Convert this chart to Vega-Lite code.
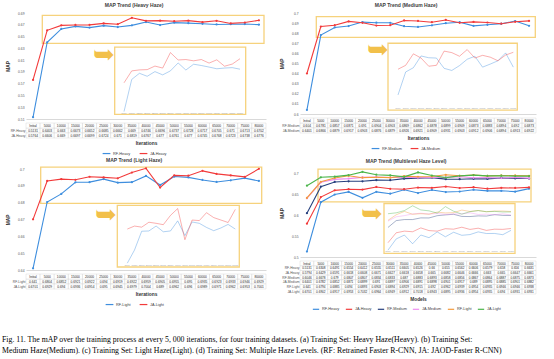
{
  "$schema": "https://vega.github.io/schema/vega-lite/v6.json",
  "background": "white",
  "padding": {"left": 2, "top": 3, "right": 2, "bottom": 2},
  "title": {
    "text": [
      "Fig. 11.  The mAP over the training process at every 5, 000 iterations, for four training datasets. (a) Training Set: Heavy Haze(Heavy). (b) Training Set:",
      "Medium Haze(Medium). (c) Training Set: Light Haze(Light). (d) Training Set: Multiple Haze Levels. (RF: Retrained Faster R-CNN, JA: JAOD-Faster R-CNN)"
    ],
    "orient": "bottom", "anchor": "start", "font": "Liberation Serif", "fontSize": 7.8, "fontWeight": "normal",
    "color": "#000000", "lineHeight": 10.5, "offset": 24
  },
  "datasets": {
    "heavy": [
      {"s":"RF-Heavy","it":"Initial","n":0,"v":0.5131},{"s":"RF-Heavy","it":"5000","n":5000,"v":0.6403},{"s":"RF-Heavy","it":"10000","n":10000,"v":0.663},{"s":"RF-Heavy","it":"15000","n":15000,"v":0.6673},{"s":"RF-Heavy","it":"20000","n":20000,"v":0.6652},{"s":"RF-Heavy","it":"25000","n":25000,"v":0.6685},{"s":"RF-Heavy","it":"30000","n":30000,"v":0.6662},{"s":"RF-Heavy","it":"35000","n":35000,"v":0.669},{"s":"RF-Heavy","it":"40000","n":40000,"v":0.6746},{"s":"RF-Heavy","it":"45000","n":45000,"v":0.6696},{"s":"RF-Heavy","it":"50000","n":50000,"v":0.6737},{"s":"RF-Heavy","it":"55000","n":55000,"v":0.6728},{"s":"RF-Heavy","it":"60000","n":60000,"v":0.6717},{"s":"RF-Heavy","it":"65000","n":65000,"v":0.6705},{"s":"RF-Heavy","it":"70000","n":70000,"v":0.671},{"s":"RF-Heavy","it":"75000","n":75000,"v":0.6713},{"s":"RF-Heavy","it":"80000","n":80000,"v":0.6702},
      {"s":"JA-Heavy","it":"Initial","n":0,"v":0.5764},{"s":"JA-Heavy","it":"5000","n":5000,"v":0.6606},{"s":"JA-Heavy","it":"10000","n":10000,"v":0.669},{"s":"JA-Heavy","it":"15000","n":15000,"v":0.6697},{"s":"JA-Heavy","it":"20000","n":20000,"v":0.6699},{"s":"JA-Heavy","it":"25000","n":25000,"v":0.6724},{"s":"JA-Heavy","it":"30000","n":30000,"v":0.671},{"s":"JA-Heavy","it":"35000","n":35000,"v":0.6819},{"s":"JA-Heavy","it":"40000","n":40000,"v":0.6767},{"s":"JA-Heavy","it":"45000","n":45000,"v":0.677},{"s":"JA-Heavy","it":"50000","n":50000,"v":0.6761},{"s":"JA-Heavy","it":"55000","n":55000,"v":0.677},{"s":"JA-Heavy","it":"60000","n":60000,"v":0.6745},{"s":"JA-Heavy","it":"65000","n":65000,"v":0.6768},{"s":"JA-Heavy","it":"70000","n":70000,"v":0.6723},{"s":"JA-Heavy","it":"75000","n":75000,"v":0.6738},{"s":"JA-Heavy","it":"80000","n":80000,"v":0.6776}
    ],
    "medium": [
      {"s":"RF-Medium","it":"Initial","n":0,"v":0.604},{"s":"RF-Medium","it":"5000","n":5000,"v":0.6781},{"s":"RF-Medium","it":"10000","n":10000,"v":0.6857},{"s":"RF-Medium","it":"15000","n":15000,"v":0.6871},{"s":"RF-Medium","it":"20000","n":20000,"v":0.691},{"s":"RF-Medium","it":"25000","n":25000,"v":0.6904},{"s":"RF-Medium","it":"30000","n":30000,"v":0.6903},{"s":"RF-Medium","it":"35000","n":35000,"v":0.6869},{"s":"RF-Medium","it":"40000","n":40000,"v":0.6862},{"s":"RF-Medium","it":"45000","n":45000,"v":0.6878},{"s":"RF-Medium","it":"50000","n":50000,"v":0.6899},{"s":"RF-Medium","it":"55000","n":55000,"v":0.6909},{"s":"RF-Medium","it":"60000","n":60000,"v":0.6873},{"s":"RF-Medium","it":"65000","n":65000,"v":0.6883},{"s":"RF-Medium","it":"70000","n":70000,"v":0.6894},{"s":"RF-Medium","it":"75000","n":75000,"v":0.692},{"s":"RF-Medium","it":"80000","n":80000,"v":0.6873},
      {"s":"JA-Medium","it":"Initial","n":0,"v":0.6401},{"s":"JA-Medium","it":"5000","n":5000,"v":0.6866},{"s":"JA-Medium","it":"10000","n":10000,"v":0.6879},{"s":"JA-Medium","it":"15000","n":15000,"v":0.6917},{"s":"JA-Medium","it":"20000","n":20000,"v":0.6903},{"s":"JA-Medium","it":"25000","n":25000,"v":0.6876},{"s":"JA-Medium","it":"30000","n":30000,"v":0.6879},{"s":"JA-Medium","it":"35000","n":35000,"v":0.6926},{"s":"JA-Medium","it":"40000","n":40000,"v":0.6921},{"s":"JA-Medium","it":"45000","n":45000,"v":0.6909},{"s":"JA-Medium","it":"50000","n":50000,"v":0.6931},{"s":"JA-Medium","it":"55000","n":55000,"v":0.6903},{"s":"JA-Medium","it":"60000","n":60000,"v":0.6912},{"s":"JA-Medium","it":"65000","n":65000,"v":0.6906},{"s":"JA-Medium","it":"70000","n":70000,"v":0.6894},{"s":"JA-Medium","it":"75000","n":75000,"v":0.6913},{"s":"JA-Medium","it":"80000","n":80000,"v":0.6922}
    ],
    "light": [
      {"s":"RF-Light","it":"Initial","n":0,"v":0.641},{"s":"RF-Light","it":"5000","n":5000,"v":0.6804},{"s":"RF-Light","it":"10000","n":10000,"v":0.6852},{"s":"RF-Light","it":"15000","n":15000,"v":0.6921},{"s":"RF-Light","it":"20000","n":20000,"v":0.6922},{"s":"RF-Light","it":"25000","n":25000,"v":0.694},{"s":"RF-Light","it":"30000","n":30000,"v":0.6919},{"s":"RF-Light","it":"35000","n":35000,"v":0.6922},{"s":"RF-Light","it":"40000","n":40000,"v":0.6959},{"s":"RF-Light","it":"45000","n":45000,"v":0.6905},{"s":"RF-Light","it":"50000","n":50000,"v":0.6955},{"s":"RF-Light","it":"55000","n":55000,"v":0.695},{"s":"RF-Light","it":"60000","n":60000,"v":0.6935},{"s":"RF-Light","it":"65000","n":65000,"v":0.6923},{"s":"RF-Light","it":"70000","n":70000,"v":0.6933},{"s":"RF-Light","it":"75000","n":75000,"v":0.6946},{"s":"RF-Light","it":"80000","n":80000,"v":0.6929},
      {"s":"JA-Light","it":"Initial","n":0,"v":0.6701},{"s":"JA-Light","it":"5000","n":5000,"v":0.6929},{"s":"JA-Light","it":"10000","n":10000,"v":0.694},{"s":"JA-Light","it":"15000","n":15000,"v":0.6936},{"s":"JA-Light","it":"20000","n":20000,"v":0.6954},{"s":"JA-Light","it":"25000","n":25000,"v":0.695},{"s":"JA-Light","it":"30000","n":30000,"v":0.6945},{"s":"JA-Light","it":"35000","n":35000,"v":0.6979},{"s":"JA-Light","it":"40000","n":40000,"v":0.7004},{"s":"JA-Light","it":"45000","n":45000,"v":0.689},{"s":"JA-Light","it":"50000","n":50000,"v":0.6962},{"s":"JA-Light","it":"55000","n":55000,"v":0.696},{"s":"JA-Light","it":"60000","n":60000,"v":0.6989},{"s":"JA-Light","it":"65000","n":65000,"v":0.6971},{"s":"JA-Light","it":"70000","n":70000,"v":0.6962},{"s":"JA-Light","it":"75000","n":75000,"v":0.6953},{"s":"JA-Light","it":"80000","n":80000,"v":0.7001}
    ],
    "multi": [
      {"s":"RF-Heavy","it":"Initial","n":0,"v":0.5131},{"s":"RF-Heavy","it":"5000","n":5000,"v":0.6308},{"s":"RF-Heavy","it":"10000","n":10000,"v":0.6491},{"s":"RF-Heavy","it":"15000","n":15000,"v":0.6554},{"s":"RF-Heavy","it":"20000","n":20000,"v":0.6412},{"s":"RF-Heavy","it":"25000","n":25000,"v":0.6555},{"s":"RF-Heavy","it":"30000","n":30000,"v":0.6511},{"s":"RF-Heavy","it":"35000","n":35000,"v":0.6605},{"s":"RF-Heavy","it":"40000","n":40000,"v":0.6526},{"s":"RF-Heavy","it":"45000","n":45000,"v":0.66},{"s":"RF-Heavy","it":"50000","n":50000,"v":0.655},{"s":"RF-Heavy","it":"55000","n":55000,"v":0.6562},{"s":"RF-Heavy","it":"60000","n":60000,"v":0.6606},{"s":"RF-Heavy","it":"65000","n":65000,"v":0.6579},{"s":"RF-Heavy","it":"70000","n":70000,"v":0.658},{"s":"RF-Heavy","it":"75000","n":75000,"v":0.656},{"s":"RF-Heavy","it":"80000","n":80000,"v":0.6631},
      {"s":"JA-Heavy","it":"Initial","n":0,"v":0.5794},{"s":"JA-Heavy","it":"5000","n":5000,"v":0.6429},{"s":"JA-Heavy","it":"10000","n":10000,"v":0.6591},{"s":"JA-Heavy","it":"15000","n":15000,"v":0.6618},{"s":"JA-Heavy","it":"20000","n":20000,"v":0.6608},{"s":"JA-Heavy","it":"25000","n":25000,"v":0.6671},{"s":"JA-Heavy","it":"30000","n":30000,"v":0.6627},{"s":"JA-Heavy","it":"35000","n":35000,"v":0.6618},{"s":"JA-Heavy","it":"40000","n":40000,"v":0.6658},{"s":"JA-Heavy","it":"45000","n":45000,"v":0.665},{"s":"JA-Heavy","it":"50000","n":50000,"v":0.6682},{"s":"JA-Heavy","it":"55000","n":55000,"v":0.6646},{"s":"JA-Heavy","it":"60000","n":60000,"v":0.6666},{"s":"JA-Heavy","it":"65000","n":65000,"v":0.663},{"s":"JA-Heavy","it":"70000","n":70000,"v":0.665},{"s":"JA-Heavy","it":"75000","n":75000,"v":0.6647},{"s":"JA-Heavy","it":"80000","n":80000,"v":0.6661},
      {"s":"RF-Medium","it":"Initial","n":0,"v":0.6046},{"s":"RF-Medium","it":"5000","n":5000,"v":0.6678},{"s":"RF-Medium","it":"10000","n":10000,"v":0.679},{"s":"RF-Medium","it":"15000","n":15000,"v":0.6807},{"s":"RF-Medium","it":"20000","n":20000,"v":0.6807},{"s":"RF-Medium","it":"25000","n":25000,"v":0.6834},{"s":"RF-Medium","it":"30000","n":30000,"v":0.6833},{"s":"RF-Medium","it":"35000","n":35000,"v":0.687},{"s":"RF-Medium","it":"40000","n":40000,"v":0.6883},{"s":"RF-Medium","it":"45000","n":45000,"v":0.6893},{"s":"RF-Medium","it":"50000","n":50000,"v":0.6858},{"s":"RF-Medium","it":"55000","n":55000,"v":0.6856},{"s":"RF-Medium","it":"60000","n":60000,"v":0.6867},{"s":"RF-Medium","it":"65000","n":65000,"v":0.6864},{"s":"RF-Medium","it":"70000","n":70000,"v":0.6887},{"s":"RF-Medium","it":"75000","n":75000,"v":0.6875},{"s":"RF-Medium","it":"80000","n":80000,"v":0.6873},
      {"s":"JA-Medium","it":"Initial","n":0,"v":0.6401},{"s":"JA-Medium","it":"5000","n":5000,"v":0.6782},{"s":"JA-Medium","it":"10000","n":10000,"v":0.6852},{"s":"JA-Medium","it":"15000","n":15000,"v":0.6871},{"s":"JA-Medium","it":"20000","n":20000,"v":0.6899},{"s":"JA-Medium","it":"25000","n":25000,"v":0.691},{"s":"JA-Medium","it":"30000","n":30000,"v":0.6897},{"s":"JA-Medium","it":"35000","n":35000,"v":0.6906},{"s":"JA-Medium","it":"40000","n":40000,"v":0.6891},{"s":"JA-Medium","it":"45000","n":45000,"v":0.6898},{"s":"JA-Medium","it":"50000","n":50000,"v":0.6901},{"s":"JA-Medium","it":"55000","n":55000,"v":0.6917},{"s":"JA-Medium","it":"60000","n":60000,"v":0.689},{"s":"JA-Medium","it":"65000","n":65000,"v":0.6895},{"s":"JA-Medium","it":"70000","n":70000,"v":0.6885},{"s":"JA-Medium","it":"75000","n":75000,"v":0.6901},{"s":"JA-Medium","it":"80000","n":80000,"v":0.6882},
      {"s":"RF-Light","it":"Initial","n":0,"v":0.641},{"s":"RF-Light","it":"5000","n":5000,"v":0.6794},{"s":"RF-Light","it":"10000","n":10000,"v":0.6885},{"s":"RF-Light","it":"15000","n":15000,"v":0.694},{"s":"RF-Light","it":"20000","n":20000,"v":0.6893},{"s":"RF-Light","it":"25000","n":25000,"v":0.6903},{"s":"RF-Light","it":"30000","n":30000,"v":0.6894},{"s":"RF-Light","it":"35000","n":35000,"v":0.6929},{"s":"RF-Light","it":"40000","n":40000,"v":0.6915},{"s":"RF-Light","it":"45000","n":45000,"v":0.692},{"s":"RF-Light","it":"50000","n":50000,"v":0.6962},{"s":"RF-Light","it":"55000","n":55000,"v":0.6939},{"s":"RF-Light","it":"60000","n":60000,"v":0.6954},{"s":"RF-Light","it":"65000","n":65000,"v":0.6935},{"s":"RF-Light","it":"70000","n":70000,"v":0.6946},{"s":"RF-Light","it":"75000","n":75000,"v":0.6946},{"s":"RF-Light","it":"80000","n":80000,"v":0.6938},
      {"s":"JA-Light","it":"Initial","n":0,"v":0.6701},{"s":"JA-Light","it":"5000","n":5000,"v":0.6902},{"s":"JA-Light","it":"10000","n":10000,"v":0.6917},{"s":"JA-Light","it":"15000","n":15000,"v":0.6953},{"s":"JA-Light","it":"20000","n":20000,"v":0.7032},{"s":"JA-Light","it":"25000","n":25000,"v":0.6964},{"s":"JA-Light","it":"30000","n":30000,"v":0.6949},{"s":"JA-Light","it":"35000","n":35000,"v":0.6912},{"s":"JA-Light","it":"40000","n":40000,"v":0.7018},{"s":"JA-Light","it":"45000","n":45000,"v":0.6943},{"s":"JA-Light","it":"50000","n":50000,"v":0.6895},{"s":"JA-Light","it":"55000","n":55000,"v":0.6936},{"s":"JA-Light","it":"60000","n":60000,"v":0.6954},{"s":"JA-Light","it":"65000","n":65000,"v":0.6935},{"s":"JA-Light","it":"70000","n":70000,"v":0.694},{"s":"JA-Light","it":"75000","n":75000,"v":0.6931},{"s":"JA-Light","it":"80000","n":80000,"v":0.6931}
    ]
  },
  "columns": 2,
  "spacing": {"row": 2, "column": 9},
  "resolve": {"scale": {"color": "independent", "stroke": "independent"}, "legend": {"color": "independent", "stroke": "independent"}},
  "concat": [
    {
      "title": {"text": "MAP Trend (Heavy Haze)", "anchor": "middle"},
      "data": {"name": "heavy"},
      "spacing": 1,
      "vconcat": [
        {
          "width": 240, "height": 106,
          "layer": [
            {"layer": [
              {"data": {"values": [{}]}, "mark": {"type": "rect", "fill": "transparent", "stroke": "#f6d27c", "strokeWidth": 1.3},
               "encoding": {"x": {"datum": 3273, "type": "quantitative"}, "x2": {"datum": 81792}, "y": {"datum": 0.6861, "type": "quantitative"}, "y2": {"datum": 0.6385}}},
              {"mark": {"type": "line", "strokeWidth": 1.1, "point": {"filled": true, "size": 5}},
               "encoding": {
                 "x": {"field": "n", "type": "quantitative", "scale": {"domain": [-2500, 82500], "nice": false, "zero": false}, "axis": {"title": null, "labels": false, "ticks": false, "grid": false, "domain": true, "domainColor": "#bfbfbf", "domainWidth": 0.6}},
                 "y": {"field": "v", "type": "quantitative", "scale": {"domain": [0.51, 0.69], "nice": false, "zero": false}, "axis": {"title": "MAP", "tickCount": 36, "labelExpr": "round(datum.value*1000) % 20 == 10 ? format(datum.value, '.2f') : ''"}},
                 "color": {"field": "s", "type": "nominal", "scale": {"domain": ["RF-Heavy", "JA-Heavy"], "range": ["#3e8ede", "#f23a3a"]}, "legend": {"orient": "bottom", "title": null}}}},
              {"data": {"values": [{}]}, "mark": {"type": "text", "text": "➥", "fontSize": 26, "color": "#f2c04a", "font": "DejaVu Sans", "align": "center", "baseline": "middle"},
               "encoding": {"x": {"datum": 25125, "type": "quantitative"}, "y": {"datum": 0.6182, "type": "quantitative"}}}
            ]},
            {"layer": [
              {"data": {"values": [{}]}, "mark": {"type": "rect", "fill": "white", "stroke": "#f6d27c", "strokeWidth": 1.3},
               "encoding": {"x": {"datum": -1013, "type": "quantitative", "scale": {"domain": [-58362, 96810], "nice": false, "zero": false}, "axis": null}, "x2": {"datum": 83678}, "y": {"datum": 0.6857, "type": "quantitative", "scale": {"domain": [0.6351, 0.7098], "nice": false, "zero": false}, "axis": null}, "y2": {"datum": 0.6384}}},
              {"transform": [{"filter": "datum.n > 0"}], "mark": {"type": "line", "strokeWidth": 0.8, "opacity": 0.5},
               "encoding": {"x": {"field": "n", "type": "quantitative", "axis": null}, "y": {"field": "v", "type": "quantitative", "axis": null}, "stroke": {"field": "s", "type": "nominal", "scale": {"domain": ["RF-Heavy", "JA-Heavy"], "range": ["#3e8ede", "#f23a3a"]}, "legend": null}}},
              {"transform": [{"filter": "datum.n > 0 && datum.s == 'RF-Heavy'"}], "mark": {"type": "text", "fontSize": 2.2, "color": "#9a9a9a"},
               "encoding": {"x": {"field": "n", "type": "quantitative", "axis": null}, "y": {"datum": 0.6396, "type": "quantitative", "axis": null}, "text": {"field": "it", "type": "nominal"}}}
            ]}
          ],
          "resolve": {"scale": {"x": "independent", "y": "independent"}}
        },
        {
          "width": 240, "height": 15,
          "layer": [
            {"mark": {"type": "rect", "fill": "white", "stroke": "#cfcfcf", "strokeWidth": 0.4},
             "encoding": {
               "x": {"field": "it", "type": "ordinal", "sort": ["Initial","5000","10000","15000","20000","25000","30000","35000","40000","45000","50000","55000","60000","65000","70000","75000","80000"], "scale": {"type": "band", "paddingInner": 0, "paddingOuter": 0}, "axis": {"title": "Iterations", "labels": false, "ticks": false, "domain": false, "grid": false}},
               "y": {"field": "s", "type": "nominal", "scale": {"type": "band", "domain": ["hdr", "RF-Heavy", "JA-Heavy"], "paddingInner": 0, "paddingOuter": 0}, "axis": {"title": null, "labelExpr": "datum.value == 'hdr' ? '' : datum.value", "ticks": false, "domain": false, "grid": false, "labelPadding": 1, "minExtent": 24, "maxExtent": 24}}}},
            {"transform": [{"filter": "datum.s == 'RF-Heavy'"}], "mark": {"type": "rect", "fill": "white", "stroke": "#cfcfcf", "strokeWidth": 0.4},
             "encoding": {"x": {"field": "it", "type": "ordinal", "sort": ["Initial","5000","10000","15000","20000","25000","30000","35000","40000","45000","50000","55000","60000","65000","70000","75000","80000"]}, "y": {"datum": "hdr", "type": "nominal"}}},
            {"mark": {"type": "text", "fontSize": 3.2, "color": "#222222"},
             "encoding": {"x": {"field": "it", "type": "ordinal", "sort": ["Initial","5000","10000","15000","20000","25000","30000","35000","40000","45000","50000","55000","60000","65000","70000","75000","80000"]}, "y": {"field": "s", "type": "nominal"}, "text": {"field": "v", "type": "quantitative", "format": ".4~f"}}},
            {"transform": [{"filter": "datum.s == 'RF-Heavy'"}], "mark": {"type": "text", "fontSize": 3.2, "color": "#222222"},
             "encoding": {"x": {"field": "it", "type": "ordinal", "sort": ["Initial","5000","10000","15000","20000","25000","30000","35000","40000","45000","50000","55000","60000","65000","70000","75000","80000"]}, "y": {"datum": "hdr", "type": "nominal"}, "text": {"field": "it", "type": "nominal"}}}
          ]
        }
      ]
    },
    {
      "title": {"text": "MAP Trend (Medium Haze)", "anchor": "middle"},
      "data": {"name": "medium"},
      "spacing": 1,
      "vconcat": [
        {
          "width": 236, "height": 101,
          "layer": [
            {"layer": [
              {"data": {"values": [{}]}, "mark": {"type": "rect", "fill": "transparent", "stroke": "#f6d27c", "strokeWidth": 1.3},
               "encoding": {"x": {"datum": 3371, "type": "quantitative"}, "x2": {"datum": 82248}, "y": {"datum": 0.6964, "type": "quantitative"}, "y2": {"datum": 0.6759}}},
              {"mark": {"type": "line", "strokeWidth": 1.1, "point": {"filled": true, "size": 5}},
               "encoding": {
                 "x": {"field": "n", "type": "quantitative", "scale": {"domain": [-2500, 82500], "nice": false, "zero": false}, "axis": {"title": null, "labels": false, "ticks": false, "grid": false, "domain": true, "domainColor": "#bfbfbf", "domainWidth": 0.6}},
                 "y": {"field": "v", "type": "quantitative", "scale": {"domain": [0.6, 0.7], "nice": false, "zero": false}, "axis": {"title": "MAP", "tickCount": 50, "labelExpr": "round(datum.value*1000) % 10 == 0 ? format(datum.value, '.2~f') : ''"}},
                 "color": {"field": "s", "type": "nominal", "scale": {"domain": ["RF-Medium", "JA-Medium"], "range": ["#3e8ede", "#f23a3a"]}, "legend": {"orient": "bottom", "title": null}}}},
              {"data": {"values": [{}]}, "mark": {"type": "text", "text": "➥", "fontSize": 26, "color": "#f2c04a", "font": "DejaVu Sans", "align": "center", "baseline": "middle"},
               "encoding": {"x": {"datum": 25593, "type": "quantitative"}, "y": {"datum": 0.6636, "type": "quantitative"}}}
            ]},
            {"layer": [
              {"data": {"values": [{}]}, "mark": {"type": "rect", "fill": "white", "stroke": "#f6d27c", "strokeWidth": 1.3},
               "encoding": {"x": {"datum": -1505, "type": "quantitative", "scale": {"domain": [-58747, 94766], "nice": false, "zero": false}, "axis": null}, "x2": {"datum": 82602}, "y": {"datum": 0.6952, "type": "quantitative", "scale": {"domain": [0.6718, 0.7052], "nice": false, "zero": false}, "axis": null}, "y2": {"datum": 0.6731}}},
              {"transform": [{"filter": "datum.n > 0"}], "mark": {"type": "line", "strokeWidth": 0.8, "opacity": 0.5},
               "encoding": {"x": {"field": "n", "type": "quantitative", "axis": null}, "y": {"field": "v", "type": "quantitative", "axis": null}, "stroke": {"field": "s", "type": "nominal", "scale": {"domain": ["RF-Medium", "JA-Medium"], "range": ["#3e8ede", "#f23a3a"]}, "legend": null}}},
              {"transform": [{"filter": "datum.n > 0 && datum.s == 'RF-Medium'"}], "mark": {"type": "text", "fontSize": 2.2, "color": "#9a9a9a"},
               "encoding": {"x": {"field": "n", "type": "quantitative", "axis": null}, "y": {"datum": 0.6739, "type": "quantitative", "axis": null}, "text": {"field": "it", "type": "nominal"}}}
            ]}
          ],
          "resolve": {"scale": {"x": "independent", "y": "independent"}}
        },
        {
          "width": 236, "height": 15,
          "layer": [
            {"mark": {"type": "rect", "fill": "white", "stroke": "#cfcfcf", "strokeWidth": 0.4},
             "encoding": {
               "x": {"field": "it", "type": "ordinal", "sort": ["Initial","5000","10000","15000","20000","25000","30000","35000","40000","45000","50000","55000","60000","65000","70000","75000","80000"], "scale": {"type": "band", "paddingInner": 0, "paddingOuter": 0}, "axis": {"title": "Iterations", "labels": false, "ticks": false, "domain": false, "grid": false}},
               "y": {"field": "s", "type": "nominal", "scale": {"type": "band", "domain": ["hdr", "RF-Medium", "JA-Medium"], "paddingInner": 0, "paddingOuter": 0}, "axis": {"title": null, "labelExpr": "datum.value == 'hdr' ? '' : datum.value", "ticks": false, "domain": false, "grid": false, "labelPadding": 1, "minExtent": 24, "maxExtent": 24}}}},
            {"transform": [{"filter": "datum.s == 'RF-Medium'"}], "mark": {"type": "rect", "fill": "white", "stroke": "#cfcfcf", "strokeWidth": 0.4},
             "encoding": {"x": {"field": "it", "type": "ordinal", "sort": ["Initial","5000","10000","15000","20000","25000","30000","35000","40000","45000","50000","55000","60000","65000","70000","75000","80000"]}, "y": {"datum": "hdr", "type": "nominal"}}},
            {"mark": {"type": "text", "fontSize": 3.2, "color": "#222222"},
             "encoding": {"x": {"field": "it", "type": "ordinal", "sort": ["Initial","5000","10000","15000","20000","25000","30000","35000","40000","45000","50000","55000","60000","65000","70000","75000","80000"]}, "y": {"field": "s", "type": "nominal"}, "text": {"field": "v", "type": "quantitative", "format": ".4~f"}}},
            {"transform": [{"filter": "datum.s == 'RF-Medium'"}], "mark": {"type": "text", "fontSize": 3.2, "color": "#222222"},
             "encoding": {"x": {"field": "it", "type": "ordinal", "sort": ["Initial","5000","10000","15000","20000","25000","30000","35000","40000","45000","50000","55000","60000","65000","70000","75000","80000"]}, "y": {"datum": "hdr", "type": "nominal"}, "text": {"field": "it", "type": "nominal"}}}
          ]
        }
      ]
    },
    {
      "title": {"text": "MAP Trend (Light Haze)", "anchor": "middle"},
      "data": {"name": "light"},
      "spacing": 1,
      "vconcat": [
        {
          "width": 240, "height": 101,
          "layer": [
            {"layer": [
              {"data": {"values": [{}]}, "mark": {"type": "rect", "fill": "transparent", "stroke": "#f6d27c", "strokeWidth": 1.3},
               "encoding": {"x": {"datum": 2706, "type": "quantitative"}, "x2": {"datum": 80977}, "y": {"datum": 0.7011, "type": "quantitative"}, "y2": {"datum": 0.6796}}},
              {"mark": {"type": "line", "strokeWidth": 1.1, "point": {"filled": true, "size": 5}},
               "encoding": {
                 "x": {"field": "n", "type": "quantitative", "scale": {"domain": [-2500, 82500], "nice": false, "zero": false}, "axis": {"title": null, "labels": false, "ticks": false, "grid": false, "domain": true, "domainColor": "#bfbfbf", "domainWidth": 0.6}},
                 "y": {"field": "v", "type": "quantitative", "scale": {"domain": [0.64, 0.7], "nice": false, "zero": false}, "axis": {"title": "MAP", "tickCount": 30, "labelExpr": "round(datum.value*1000) % 10 == 0 ? format(datum.value, '.2~f') : ''"}},
                 "color": {"field": "s", "type": "nominal", "scale": {"domain": ["RF-Light", "JA-Light"], "range": ["#3e8ede", "#f23a3a"]}, "legend": {"orient": "bottom", "title": null}}}},
              {"data": {"values": [{}]}, "mark": {"type": "text", "text": "➥", "fontSize": 26, "color": "#f2c04a", "font": "DejaVu Sans", "align": "center", "baseline": "middle"},
               "encoding": {"x": {"datum": 25833, "type": "quantitative"}, "y": {"datum": 0.6728, "type": "quantitative"}}}
            ]},
            {"layer": [
              {"data": {"values": [{}]}, "mark": {"type": "rect", "fill": "white", "stroke": "#f6d27c", "strokeWidth": 1.3},
               "encoding": {"x": {"datum": -1944, "type": "quantitative", "scale": {"domain": [-65347, 101320], "nice": false, "zero": false}, "axis": null}, "x2": {"datum": 82778}, "y": {"datum": 0.7016, "type": "quantitative", "scale": {"domain": [0.6779, 0.7149], "nice": false, "zero": false}, "axis": null}, "y2": {"datum": 0.679}}},
              {"transform": [{"filter": "datum.n > 0"}], "mark": {"type": "line", "strokeWidth": 0.8, "opacity": 0.5},
               "encoding": {"x": {"field": "n", "type": "quantitative", "axis": null}, "y": {"field": "v", "type": "quantitative", "axis": null}, "stroke": {"field": "s", "type": "nominal", "scale": {"domain": ["RF-Light", "JA-Light"], "range": ["#3e8ede", "#f23a3a"]}, "legend": null}}},
              {"transform": [{"filter": "datum.n > 0 && datum.s == 'RF-Light'"}], "mark": {"type": "text", "fontSize": 2.2, "color": "#9a9a9a"},
               "encoding": {"x": {"field": "n", "type": "quantitative", "axis": null}, "y": {"datum": 0.6799, "type": "quantitative", "axis": null}, "text": {"field": "it", "type": "nominal"}}}
            ]}
          ],
          "resolve": {"scale": {"x": "independent", "y": "independent"}}
        },
        {
          "width": 240, "height": 15,
          "layer": [
            {"mark": {"type": "rect", "fill": "white", "stroke": "#cfcfcf", "strokeWidth": 0.4},
             "encoding": {
               "x": {"field": "it", "type": "ordinal", "sort": ["Initial","5000","10000","15000","20000","25000","30000","35000","40000","45000","50000","55000","60000","65000","70000","75000","80000"], "scale": {"type": "band", "paddingInner": 0, "paddingOuter": 0}, "axis": {"title": "Iterations", "labels": false, "ticks": false, "domain": false, "grid": false}},
               "y": {"field": "s", "type": "nominal", "scale": {"type": "band", "domain": ["hdr", "RF-Light", "JA-Light"], "paddingInner": 0, "paddingOuter": 0}, "axis": {"title": null, "labelExpr": "datum.value == 'hdr' ? '' : datum.value", "ticks": false, "domain": false, "grid": false, "labelPadding": 1, "minExtent": 24, "maxExtent": 24}}}},
            {"transform": [{"filter": "datum.s == 'RF-Light'"}], "mark": {"type": "rect", "fill": "white", "stroke": "#cfcfcf", "strokeWidth": 0.4},
             "encoding": {"x": {"field": "it", "type": "ordinal", "sort": ["Initial","5000","10000","15000","20000","25000","30000","35000","40000","45000","50000","55000","60000","65000","70000","75000","80000"]}, "y": {"datum": "hdr", "type": "nominal"}}},
            {"mark": {"type": "text", "fontSize": 3.2, "color": "#222222"},
             "encoding": {"x": {"field": "it", "type": "ordinal", "sort": ["Initial","5000","10000","15000","20000","25000","30000","35000","40000","45000","50000","55000","60000","65000","70000","75000","80000"]}, "y": {"field": "s", "type": "nominal"}, "text": {"field": "v", "type": "quantitative", "format": ".4~f"}}},
            {"transform": [{"filter": "datum.s == 'RF-Light'"}], "mark": {"type": "text", "fontSize": 3.2, "color": "#222222"},
             "encoding": {"x": {"field": "it", "type": "ordinal", "sort": ["Initial","5000","10000","15000","20000","25000","30000","35000","40000","45000","50000","55000","60000","65000","70000","75000","80000"]}, "y": {"datum": "hdr", "type": "nominal"}, "text": {"field": "it", "type": "nominal"}}}
          ]
        }
      ]
    },
    {
      "title": {"text": "MAP Trend (Multilevel Haze Level)", "anchor": "middle"},
      "data": {"name": "multi"},
      "spacing": 1,
      "vconcat": [
        {
          "width": 236, "height": 88,
          "layer": [
            {"layer": [
              {"data": {"values": [{}]}, "mark": {"type": "rect", "fill": "transparent", "stroke": "#f6d27c", "strokeWidth": 1.3},
               "encoding": {"x": {"datum": 3983, "type": "quantitative"}, "x2": {"datum": 80699}, "y": {"datum": 0.7095, "type": "quantitative"}, "y2": {"datum": 0.6316}}},
              {"mark": {"type": "line", "strokeWidth": 1.1, "point": {"filled": true, "size": 5}},
               "encoding": {
                 "x": {"field": "n", "type": "quantitative", "scale": {"domain": [-2500, 82500], "nice": false, "zero": false}, "axis": {"title": null, "labels": false, "ticks": false, "grid": false, "domain": true, "domainColor": "#bfbfbf", "domainWidth": 0.6}},
                 "y": {"field": "v", "type": "quantitative", "scale": {"domain": [0.5, 0.71], "nice": false, "zero": false}, "axis": {"title": "MAP", "tickCount": 21, "labelExpr": "round(datum.value*1000) % 50 == 0 ? format(datum.value, '.2~f') : ''"}},
                 "color": {"field": "s", "type": "nominal", "scale": {"domain": ["RF-Heavy", "JA-Heavy", "RF-Medium", "JA-Medium", "RF-Light", "JA-Light"], "range": ["#3e8ede", "#f23a3a", "#27407e", "#ee8ef0", "#f39a3c", "#4bb54b"]}, "legend": {"orient": "bottom", "title": null, "columnPadding": 3, "symbolSize": 40}}}},
              {"data": {"values": [{}]}, "mark": {"type": "text", "text": "➥", "fontSize": 26, "color": "#f2c04a", "font": "DejaVu Sans", "align": "center", "baseline": "middle"},
               "encoding": {"x": {"datum": 23432, "type": "quantitative"}, "y": {"datum": 0.6036, "type": "quantitative"}}}
            ]},
            {"layer": [
              {"data": {"values": [{}]}, "mark": {"type": "rect", "fill": "white", "stroke": "#f6d27c", "strokeWidth": 1.3},
               "encoding": {"x": {"datum": 2562, "type": "quantitative", "scale": {"domain": [-48658, 95244], "nice": false, "zero": false}, "axis": null}, "x2": {"datum": 82439}, "y": {"datum": 0.7069, "type": "quantitative", "scale": {"domain": [0.6196, 0.7632], "nice": false, "zero": false}, "axis": null}, "y2": {"datum": 0.6255}}},
              {"transform": [{"filter": "datum.n > 0"}], "mark": {"type": "line", "strokeWidth": 0.8, "opacity": 0.5},
               "encoding": {"x": {"field": "n", "type": "quantitative", "axis": null}, "y": {"field": "v", "type": "quantitative", "axis": null}, "stroke": {"field": "s", "type": "nominal", "scale": {"domain": ["RF-Heavy", "JA-Heavy", "RF-Medium", "JA-Medium", "RF-Light", "JA-Light"], "range": ["#3e8ede", "#f23a3a", "#27407e", "#ee8ef0", "#f39a3c", "#4bb54b"]}, "legend": null}}},
              {"transform": [{"filter": "datum.n > 0 && datum.s == 'RF-Heavy'"}], "mark": {"type": "text", "fontSize": 2.2, "color": "#9a9a9a"},
               "encoding": {"x": {"field": "n", "type": "quantitative", "axis": null}, "y": {"datum": 0.6292, "type": "quantitative", "axis": null}, "text": {"field": "it", "type": "nominal"}}}
            ]}
          ],
          "resolve": {"scale": {"x": "independent", "y": "independent"}}
        },
        {
          "width": 236, "height": 33,
          "layer": [
            {"mark": {"type": "rect", "fill": "white", "stroke": "#cfcfcf", "strokeWidth": 0.4},
             "encoding": {
               "x": {"field": "it", "type": "ordinal", "sort": ["Initial","5000","10000","15000","20000","25000","30000","35000","40000","45000","50000","55000","60000","65000","70000","75000","80000"], "scale": {"type": "band", "paddingInner": 0, "paddingOuter": 0}, "axis": {"title": "Models", "labels": false, "ticks": false, "domain": false, "grid": false}},
               "y": {"field": "s", "type": "nominal", "scale": {"type": "band", "domain": ["hdr", "RF-Heavy", "JA-Heavy", "RF-Medium", "JA-Medium", "RF-Light", "JA-Light"], "paddingInner": 0, "paddingOuter": 0}, "axis": {"title": null, "labelExpr": "datum.value == 'hdr' ? '' : datum.value", "ticks": false, "domain": false, "grid": false, "labelPadding": 1, "minExtent": 24, "maxExtent": 24}}}},
            {"transform": [{"filter": "datum.s == 'RF-Heavy'"}], "mark": {"type": "rect", "fill": "white", "stroke": "#cfcfcf", "strokeWidth": 0.4},
             "encoding": {"x": {"field": "it", "type": "ordinal", "sort": ["Initial","5000","10000","15000","20000","25000","30000","35000","40000","45000","50000","55000","60000","65000","70000","75000","80000"]}, "y": {"datum": "hdr", "type": "nominal"}}},
            {"mark": {"type": "text", "fontSize": 3.1, "color": "#222222"},
             "encoding": {"x": {"field": "it", "type": "ordinal", "sort": ["Initial","5000","10000","15000","20000","25000","30000","35000","40000","45000","50000","55000","60000","65000","70000","75000","80000"]}, "y": {"field": "s", "type": "nominal"}, "text": {"field": "v", "type": "quantitative", "format": ".4~f"}}},
            {"transform": [{"filter": "datum.s == 'RF-Heavy'"}], "mark": {"type": "text", "fontSize": 3.1, "color": "#222222"},
             "encoding": {"x": {"field": "it", "type": "ordinal", "sort": ["Initial","5000","10000","15000","20000","25000","30000","35000","40000","45000","50000","55000","60000","65000","70000","75000","80000"]}, "y": {"datum": "hdr", "type": "nominal"}, "text": {"field": "it", "type": "nominal"}}}
          ]
        }
      ]
    }
  ],
  "config": {
    "font": "Liberation Sans",
    "view": {"stroke": null},
    "title": {"fontSize": 5, "fontWeight": "bold", "color": "#404040", "offset": 3, "anchor": "middle"},
    "axis": {"labelFontSize": 3.3, "labelColor": "#555555", "titleFontSize": 4.8, "titleFontWeight": "bold", "titleColor": "#333333", "titlePadding": 2},
    "axisY": {"ticks": false, "domain": false, "gridColor": "#e6e6e6", "gridWidth": 0.5, "labelOverlap": false, "labelPadding": 2, "titlePadding": 4, "minExtent": 12, "maxExtent": 12},
    "legend": {"direction": "horizontal", "labelFontSize": 3.8, "labelColor": "#404040", "symbolType": "stroke", "symbolSize": 60, "symbolStrokeWidth": 1.2, "columnPadding": 6, "offset": 4, "padding": 0, "labelOffset": 2, "layout": {"bottom": {"anchor": "middle"}}}
  }
}
